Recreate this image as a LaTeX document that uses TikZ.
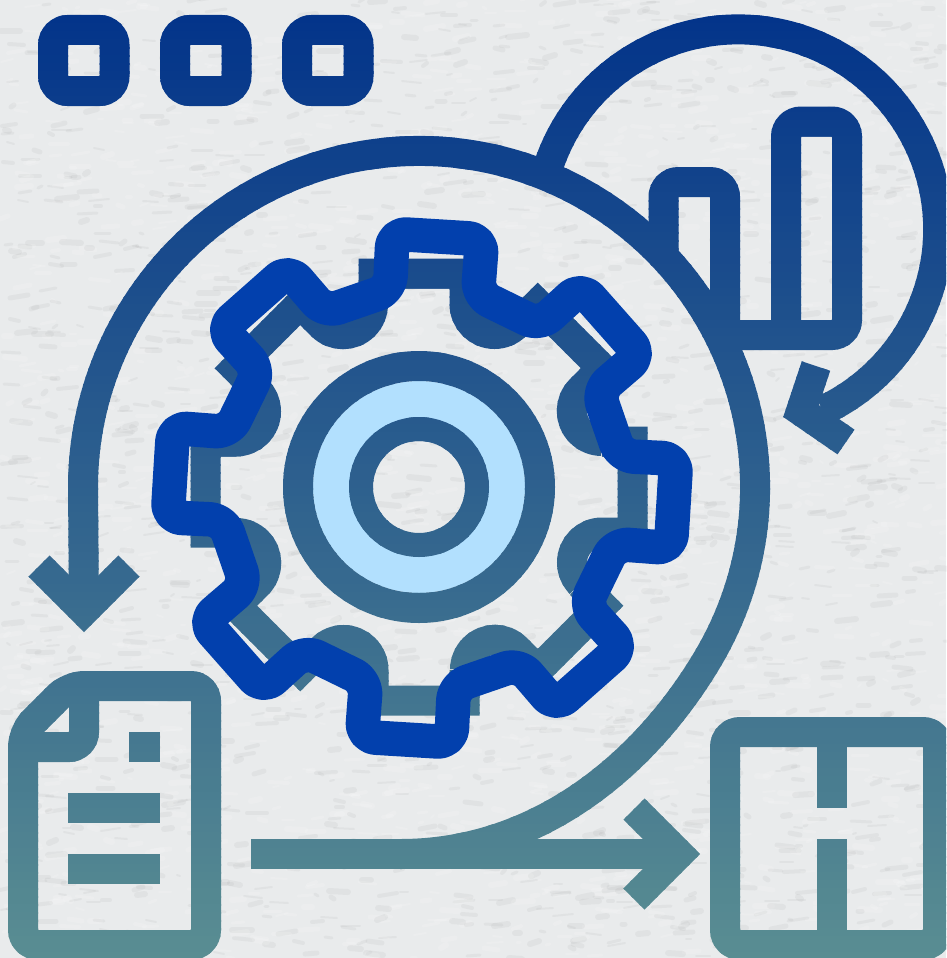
\documentclass[tikz,border=0pt]{standalone}
\usepackage{tikz}
\definecolor{topc}{RGB}{3,52,138}
\definecolor{botc}{RGB}{90,142,146}
\definecolor{paper}{RGB}{233,235,236}
\definecolor{gearblue}{RGB}{2,64,173}
\definecolor{disc}{RGB}{178,224,254}
\tikzset{
  iconline/.style={line width=30pt,line join=miter,line cap=butt},
  roundline/.style={iconline,rounded corners=15pt},
  gearline/.style={line width=34.5pt,draw=gearblue,line join=round,rounded corners=14pt},
}
\newcommand{\iconbody}{%
  % window dots
  \foreach \xa in {53,175,297}{\draw[roundline] (\xa,30) rectangle (\xa+61.5,91);}
  % chart circle
  \draw[iconline] (549.5,163) arc[start angle=199.4,end angle=425,radius=200];
  \draw[iconline] (816,366) -- (801,411) -- (846,442);
  % bars
  \draw[roundline] (663.5,258) -- (663.5,182) -- (725,182) -- (725,335);
  \draw[roundline] (715,335) -- (847,335) -- (847,121.5) -- (786,121.5) -- (786,335);
  % big arc
  \draw[iconline] (400,854) .. controls (550,854) and (655,750) .. (710,655)
    arc[start angle=30,end angle=-180,radius=336] -- (84,611);
  \draw[iconline] (39,566) -- (84,611) -- (129,566);
  % lower arrow
  \draw[iconline] (251,854) -- (679,854);
  \draw[iconline] (634,809) -- (679,854) -- (634,899);
  % document
  \draw[roundline] (23,760) -- (23,732) -- (69,686) -- (206,686) -- (206,945) -- (23,945) -- cycle;
  \draw[roundline] (84,686) -- (84,747) -- (23,747);
  \fill (129,732) rectangle (160,762);
  \fill (68,793) rectangle (160,823);
  \fill (68,854) rectangle (160,884);
  % box
  \draw[roundline] (725,732) rectangle (938,945);
  \draw[iconline] (831.5,732) -- (831.5,808);
  \draw[iconline] (831.5,839) -- (831.5,945);
  % gear shadow
  \foreach \r in {0,45,...,315}{
    \begin{scope}[shift={(419,487)},rotate=\r]
      \draw[iconline] (-45.5,-183) -- (-45.5,-213.5) -- (45.5,-213.5) -- (45.5,-183)
        arc[start angle=180,end angle=45,radius=30];
    \end{scope}}
  % hub
  \draw[line width=30pt] (419,487) circle[radius=121];
}
\begin{document}
\begin{tikzpicture}[x=1pt,y=-1pt]
\useasboundingbox (0,0) rectangle (946,958);
\fill[paper] (0,0) rectangle (946,958);
% paper grain
\pgfmathsetseed{4711}
\foreach \k in {1,...,3600}{
  \pgfmathsetmacro\px{random(0,946)}
  \pgfmathsetmacro\py{random(0,958)}
  \pgfmathsetmacro\pl{random(3,20)}
  \pgfmathsetmacro\pd{random(-3,2)}
  \pgfmathsetmacro\pw{random(2,6)}
  \ifodd\k
    \draw[line width=\pw pt,line cap=round,draw=gray,opacity=.08] (\px,\py) -- ++(\pl,\pd);
  \else
    \draw[line width=\pw pt,line cap=round,draw=white,opacity=.14] (\px,\py) -- ++(\pl,\pd);
  \fi
}
% light disc ring
\fill[disc,even odd rule] (419,487) circle[radius=106] (419,487) circle[radius=50];
% gradient icon: horizontal bands
\foreach \b in {0,8,...,952}{
  \pgfmathtruncatemacro\pc{max(0,min(100,(\b+4-15)/9.43))}
  \colorlet{bandc}{botc!\pc!topc}
  \begin{scope}
    \clip (0,\b) rectangle (946,\b+9);
    \begin{scope}[color=bandc,draw=bandc,fill=bandc]
      \iconbody
      \draw[line width=24pt] (419,487) circle[radius=58];
    \end{scope}
  \end{scope}
}
% blue gear
\def\bluepath{}
\foreach \i in {0,...,7}{
  \pgfmathsetmacro\aa{-86.5+45*\i-10.08}
  \pgfmathsetmacro\ab{-86.5+45*\i+10.08}
  \pgfmathsetmacro\ac{-86.5+45*\i+12.65}
  \pgfmathsetmacro\ad{-86.5+45*(\i+1)-12.65}
  \xdef\bluepath{\bluepath -- (\aa:256) -- (\ab:256) -- (\ac:200.9) -- (\ad:200.9)}
}
\begin{scope}[shift={(422,488)}]
  \draw[gearline] (-30.7,-226.8) \bluepath -- cycle;
\end{scope}
\end{tikzpicture}
\end{document}
